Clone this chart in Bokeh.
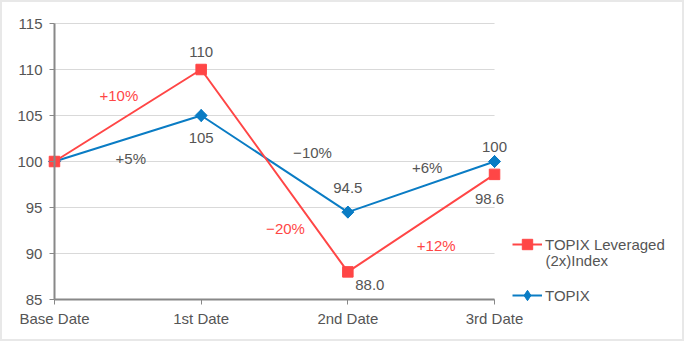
import math
from bokeh.plotting import figure
from bokeh.models import ColumnDataSource, Legend, LegendItem, FixedTicker, Range1d, Label
from bokeh.core.properties import value
from bokeh.embed import file_html
from bokeh.resources import INLINE

categories = ["Base Date", "1st Date", "2nd Date", "3rd Date"]
lev_values = [100, 110, 88.0, 98.6]
topix_values = [100, 105, 94.5, 100]
lev_value_labels = ["", "110", "88.0", "98.6"]
topix_value_labels = ["", "105", "94.5", "100"]
lev_change_labels = ["+10%", "\u221220%", "+12%"]
topix_change_labels = ["+5%", "\u221210%", "+6%"]
y_ticks = [85, 90, 95, 100, 105, 110, 115]
lev_name = ["TOPIX Leveraged", "(2x)Index"]
topix_name = "TOPIX"

RED = "#ff4646"
BLUE = "#0a7cc4"
TXT = "#555555"
FONT = "Liberation Sans"
FS = "15px"

xs = list(range(len(categories)))

# frame fills the whole canvas; axes are pinned at x=0 and y=85
p = figure(width=684, height=341, output_backend="svg", toolbar_location=None,
           x_range=Range1d(-0.368, 4.295), y_range=Range1d(80.435, 117.5),
           min_border=0)
p.outline_line_color = "#e8e8e8"
p.outline_line_width = 3
p.background_fill_color = "white"
p.border_fill_color = "white"

p.xgrid.grid_line_color = None
p.ygrid.grid_line_color = None
p.yaxis.ticker = FixedTicker(ticks=y_ticks)
p.yaxis.fixed_location = xs[0]
p.yaxis.bounds = (y_ticks[0], y_ticks[-1])
p.xaxis.ticker = FixedTicker(ticks=xs)
p.xaxis.fixed_location = y_ticks[0]
p.xaxis.bounds = (xs[0], xs[-1])
p.xaxis.major_label_overrides = {i: c for i, c in enumerate(categories)}
for ax in (p.xaxis, p.yaxis):
    ax.axis_line_color = "#888888"
    ax.axis_line_width = 2
    ax.major_tick_line_color = "#888888"
    ax.major_tick_line_width = 1
    ax.major_tick_in = 0
    ax.major_tick_out = 5
    ax.minor_tick_line_color = None
    ax.major_label_text_font = FONT
    ax.major_label_text_font_size = FS
    ax.major_label_text_color = TXT
p.yaxis.major_label_standoff = 7
p.xaxis.major_label_standoff = 5

gx0 = [xs[0]] * len(y_ticks)
gx1 = [xs[-1]] * len(y_ticks)
p.segment(gx0, y_ticks, gx1, y_ticks, line_color="#d9d9d9", line_width=1, level="underlay")

top_line = p.line(xs, topix_values, line_color=BLUE, line_width=2)
# diamond marks (also used as the legend swatch), covered by rotated squares
top_swatch = p.scatter(xs, topix_values, marker="diamond", size=12, fill_color=BLUE, line_color=BLUE)
top_mark = p.scatter(xs, topix_values, marker="square", angle=math.pi / 4, size=8.5,
                     fill_color=BLUE, line_color=BLUE)
lev_line = p.line(xs, lev_values, line_color=RED, line_width=2)
lev_mark = p.scatter(xs, lev_values, marker="square", size=10.5, fill_color=RED, line_color=RED)

def add_labels(x, y, t, xo, yo, color):
    src = ColumnDataSource(dict(x=x, y=y, t=t, xo=xo, yo=yo))
    p.text("x", "y", text="t", x_offset="xo", y_offset="yo", source=src,
           text_font=value(FONT), text_font_size=FS, text_color=color,
           text_align="center", text_baseline="middle")

add_labels(xs[1:], lev_values[1:], lev_value_labels[1:], [0, 22, -5], [-18, 13, 25], TXT)
add_labels(xs[1:], topix_values[1:], topix_value_labels[1:], [0, 0, 0], [22, -24, -15], TXT)

mid_x = [i + 0.5 for i in range(len(xs) - 1)]
lev_mid = [(lev_values[i] + lev_values[i + 1]) / 2 for i in range(len(xs) - 1)]
top_mid = [(topix_values[i] + topix_values[i + 1]) / 2 for i in range(len(xs) - 1)]
add_labels(mid_x, lev_mid, lev_change_labels, [-9, 11, 15], [-20, 58, 22], RED)
add_labels(mid_x, top_mid, topix_change_labels, [3, 38, 6], [20, -11, -19], TXT)

legend = Legend(items=[
    LegendItem(label=lev_name[0], renderers=[lev_line, lev_mark]),
    LegendItem(label=topix_name, renderers=[top_line, top_swatch]),
], location=(512, 33))
legend.background_fill_alpha = 0
legend.border_line_color = None
legend.padding = 0
legend.margin = 0
legend.spacing = 25
legend.glyph_width = 30
legend.glyph_height = 26
legend.label_standoff = 3
legend.label_text_font = FONT
legend.label_text_font_size = FS
legend.label_text_color = TXT
p.add_layout(legend, "center")

# second line of the first legend entry
p.add_layout(Label(x=545, y=81, x_units="screen", y_units="screen", text=lev_name[1],
                   text_font=FONT, text_font_size=FS, text_color=TXT,
                   text_baseline="middle"))

open("out.html", "w").write(file_html(p, INLINE))
